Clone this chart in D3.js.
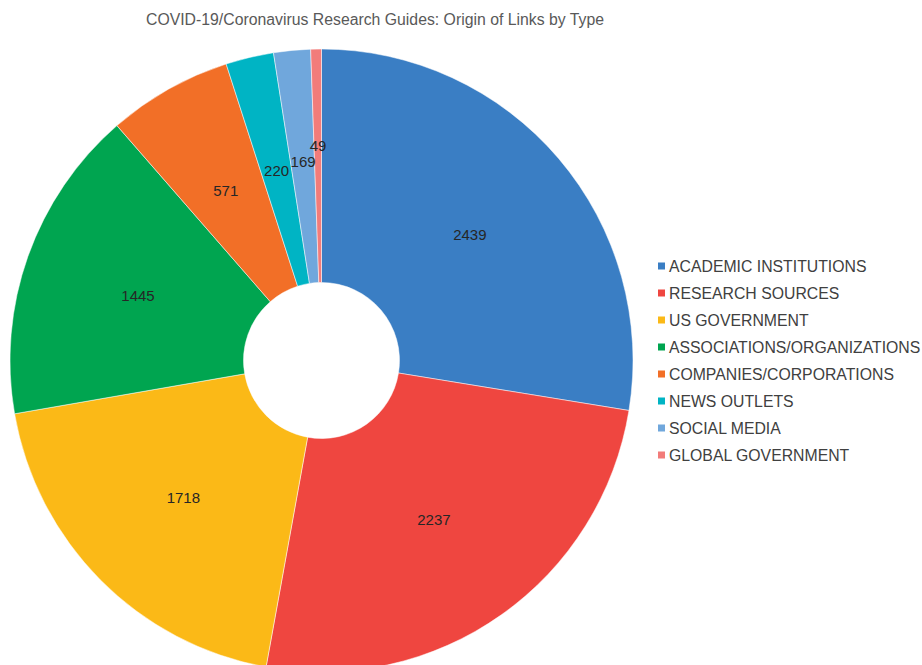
<!DOCTYPE html>
<html>
<head>
<meta charset="utf-8">
<script src="https://cdn.jsdelivr.net/npm/d3@7"></script>
<style>
  html, body { margin: 0; padding: 0; background: #fff; }
  svg { display: block; font-family: "Liberation Sans", Arial, sans-serif; }
</style>
</head>
<body>
<svg id="chart" width="922" height="665"></svg>
<script>
// Link origins by type
const categories = [
  "ACADEMIC INSTITUTIONS",
  "RESEARCH SOURCES",
  "US GOVERNMENT",
  "ASSOCIATIONS/ORGANIZATIONS",
  "COMPANIES/CORPORATIONS",
  "NEWS OUTLETS",
  "SOCIAL MEDIA",
  "GLOBAL GOVERNMENT"
];
const values = [2439, 2237, 1718, 1445, 571, 220, 169, 49];
const colors = ["#3a7ec4", "#ef4640", "#fbb917", "#00a550", "#f26f27", "#00b4c4", "#70a7dc", "#f27c7a"];
const title = "COVID-19/Coronavirus Research Guides: Origin of Links by Type";

const cx = 321.5, cy = 360.5, outerR = 311.5, innerR = 78;

// Upward nudges (px) for labels of the thin slices at the top, so they don't collide
const labelNudge = { "SOCIAL MEDIA": -5, "GLOBAL GOVERNMENT": -20 };

const svg = d3.select("#chart");

svg.append("text")
  .attr("x", 375).attr("y", 19)
  .attr("dy", "0.35em")
  .attr("text-anchor", "middle")
  .attr("fill", "#595959")
  .attr("font-size", 15.8)
  .text(title);

const data = categories.map((c, i) => ({ name: c, value: values[i], color: colors[i] }));

const pie = d3.pie().value(d => d.value).sort(null);
const arc = d3.arc().innerRadius(innerR).outerRadius(outerR);
const arcs = pie(data);

const g = svg.append("g").attr("transform", `translate(${cx},${cy})`);

g.selectAll("path.slice")
  .data(arcs)
  .join("path")
  .attr("class", "slice")
  .attr("d", arc)
  .attr("fill", d => d.data.color)
  .attr("stroke", "#fff")
  .attr("stroke-width", 0.5);

g.selectAll("text.val")
  .data(arcs)
  .join("text")
  .attr("class", "val")
  .attr("x", d => arc.centroid(d)[0])
  .attr("y", d => arc.centroid(d)[1] + (labelNudge[d.data.name] || 0))
  .attr("dy", "0.35em")
  .attr("text-anchor", "middle")
  .attr("fill", "#262626")
  .attr("font-size", 15)
  .text(d => d.data.value);

// Legend
const legend = svg.append("g").attr("transform", "translate(658,266)");
const rowH = 27;
const item = legend.selectAll("g.item")
  .data(data)
  .join("g")
  .attr("class", "item")
  .attr("transform", (d, i) => `translate(0,${i * rowH})`);

item.append("rect")
  .attr("x", 0).attr("y", -3.5)
  .attr("width", 7).attr("height", 7)
  .attr("fill", d => d.color);

item.append("text")
  .attr("x", 11).attr("y", 0)
  .attr("dy", "0.35em")
  .attr("fill", "#404040")
  .attr("font-size", 15.8)
  .text(d => d.name);
</script>
</body>
</html>
